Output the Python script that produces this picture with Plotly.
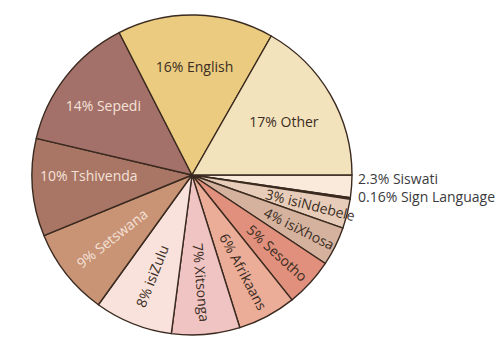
import plotly.graph_objects as go

languages = ["Siswati", "Sign Language", "isiNdebele", "isiXhosa", "Sesotho", "Afrikaans",
             "Xitsonga", "isiZulu", "Setswana", "Tshivenda", "Sepedi", "English", "Other"]
shares = [2.3, 0.16, 3, 4, 5, 6, 7, 8, 9, 10, 14, 16, 17]
share_labels = ["2.3%", "0.16%", "3%", "4%", "5%", "6%", "7%", "8%", "9%", "10%", "14%", "16%", "17%"]
colors = ["#F9EADB", "#F7E6D6", "#E7CDB9", "#D4B29E", "#E0907C", "#EBAC98",
          "#F0C4C2", "#F8E2DB", "#C99376", "#A97565", "#A4706A", "#EACB80", "#F3E3BC"]
text_colors = ["#3b2d24"] * 8 + ["#F4E2D8", "#F4E2D8", "#F4E2D8", "#3b2d24", "#3b2d24"]
horizontal_set = {"Tshivenda", "Sepedi", "English", "Other"}
outside_set = {"Siswati", "Sign Language"}

full_text = [f"{p} {n}" for p, n in zip(share_labels, languages)]

text_a, pos_a, text_b, pos_b, outside_text = [], [], [], [], []
for name, t in zip(languages, full_text):
    if name in horizontal_set:
        text_a.append(t); pos_a.append("inside")
        text_b.append(""); pos_b.append("none")
    elif name in outside_set:
        text_a.append(""); pos_a.append("none")
        text_b.append(""); pos_b.append("none")
        outside_text.append(t)
    else:
        text_a.append(""); pos_a.append("none")
        text_b.append(t); pos_b.append("inside")

W, H = 503, 343
cx, cy, r = 192, 175, 160
domain = dict(x=[(cx - r) / W, (cx + r) / W], y=[(H - cy - r) / H, (H - cy + r) / H])
font_family = "Open Sans, Noto Sans, sans-serif"
FS = 14

common = dict(labels=languages, values=shares, sort=False, direction="clockwise",
              rotation=90, domain=domain, textinfo="text", hoverinfo="skip",
              showlegend=False)

fig = go.Figure()
fig.add_trace(go.Pie(
    **common,
    text=text_a, textposition=pos_a,
    marker=dict(colors=colors, line=dict(color="#3a2a1f", width=1.4)),
    insidetextorientation="horizontal",
    insidetextfont=dict(family=font_family, size=FS, color=text_colors),
))
fig.add_trace(go.Pie(
    **common,
    text=text_b, textposition=pos_b,
    marker=dict(colors=["rgba(0,0,0,0)"] * len(languages), line=dict(width=0)),
    insidetextorientation="radial",
    insidetextfont=dict(family=font_family, size=FS, color=text_colors),
))

# outside labels for the two thinnest slices, stacked to the right of the pie
for i, t in enumerate(outside_text):
    fig.add_annotation(
        x=(cx + r + 4) / W, y=(H - 178 - 18 * i) / H, xref="paper", yref="paper",
        text=t, showarrow=False, xanchor="left", yanchor="middle",
        font=dict(family=font_family, size=FS, color="#3b3b40"),
    )

fig.update_layout(
    width=W, height=H,
    margin=dict(l=0, r=0, t=0, b=0),
    paper_bgcolor="white", plot_bgcolor="white",
    uniformtext=dict(minsize=FS, mode="show"),
)
fig.write_html("out.html")
